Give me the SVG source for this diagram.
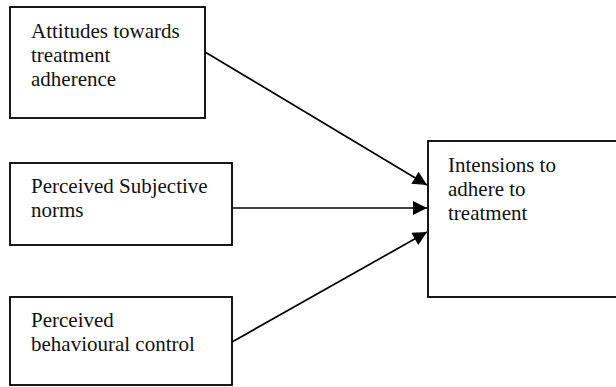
<svg xmlns="http://www.w3.org/2000/svg" width="616" height="387" viewBox="0 0 616 387">
<style>
.box{fill:#fff;stroke:#000;stroke-width:1.8}
.t{font-family:"Liberation Serif","Times New Roman",serif;font-size:21px;fill:#111}
.c{stroke:#000;stroke-width:1.7;fill:none}
</style>
<defs>
<marker id="ah" viewBox="0 0 10 10" refX="10" refY="5" markerWidth="16" markerHeight="14" markerUnits="userSpaceOnUse" orient="auto">
<path d="M0,0 L10,5 L0,10 z" fill="#000"/>
</marker>
</defs>
<rect width="616" height="387" fill="#fff"/>
<g id="n1">
<rect class="box" x="10" y="7" width="195" height="111"/>
<text class="t" x="31" y="38">Attitudes towards</text>
<text class="t" x="31" y="62">treatment</text>
<text class="t" x="31" y="86">adherence</text>
</g>
<g id="n2">
<rect class="box" x="10" y="163" width="222" height="82"/>
<text class="t" x="31" y="193">Perceived Subjective</text>
<text class="t" x="31" y="217">norms</text>
</g>
<g id="n3">
<rect class="box" x="10" y="297" width="222" height="88"/>
<text class="t" x="31" y="327">Perceived</text>
<text class="t" x="31" y="351">behavioural control</text>
</g>
<g id="n4">
<rect class="box" x="428" y="141" width="200" height="156"/>
<text class="t" x="448" y="172">Intensions to</text>
<text class="t" x="448" y="196">adhere to</text>
<text class="t" x="448" y="220">treatment</text>
</g>
<g id="connectors">
<line class="c" x1="205" y1="52" x2="427" y2="185" marker-end="url(#ah)"/>
<line class="c" x1="232" y1="208" x2="427" y2="208" marker-end="url(#ah)"/>
<line class="c" x1="232" y1="342" x2="427" y2="232" marker-end="url(#ah)"/>
</g>
</svg>
